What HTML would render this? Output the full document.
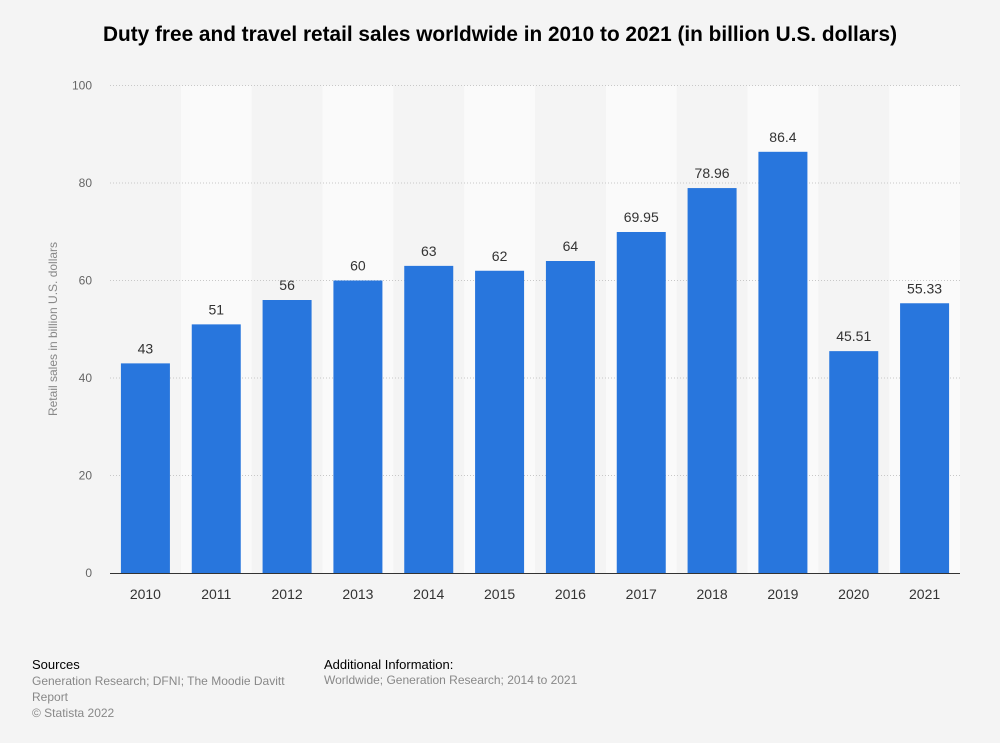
<!DOCTYPE html>
<html><head><meta charset="utf-8"><style>
body{margin:0;background:#f4f4f4;font-family:"Liberation Sans",sans-serif;}
#wrap{position:relative;width:1000px;height:743px;}
.t{position:absolute;color:#666;font-size:12px;}
</style></head><body>
<div id="wrap">
<div style="position:absolute;left:0;top:23px;width:1000px;text-align:center;font-weight:bold;font-size:20.8px;color:#000;">Duty free and travel retail sales worldwide in 2010 to 2021 (in billion U.S. dollars)</div>
<svg id="c" width="1000" height="743" style="position:absolute;left:0;top:0"></svg>
<div class="t" style="left:32px;top:657px;color:#000;font-size:13px;">Sources</div>
<div class="t" style="left:32px;top:673px;line-height:16px;color:#888;">Generation Research; DFNI; The Moodie Davitt<br>Report<br>© Statista 2022</div>
<div class="t" style="left:324px;top:657px;color:#000;font-size:13px;">Additional Information:</div>
<div class="t" style="left:324px;top:673px;color:#888;">Worldwide; Generation Research; 2014 to 2021</div>
</div>
<script>
const categories=["2010","2011","2012","2013","2014","2015","2016","2017","2018","2019","2020","2021"];
const values=[43,51,56,60,63,62,64,69.95,78.96,86.4,45.51,55.33];
const labels=["43","51","56","60","63","62","64","69.95","78.96","86.4","45.51","55.33"];
const yTicks=[0,20,40,60,80,100];
const NS="http://www.w3.org/2000/svg";
const svg=document.getElementById('c');
const x0=110,x1=960,y0=573,yTop=85.5,yMax=100;
const bw=(x1-x0)/categories.length;
const y=v=>y0-(v/yMax)*(y0-yTop);
const xc=i=>x0+bw*(i+0.5);
function mk(t,a){const e=document.createElementNS(NS,t);for(const k in a)e.setAttribute(k,a[k]);svg.appendChild(e);return e;}
categories.forEach((c,i)=>{if(i%2===1){const r=mk('rect',{x:x0+bw*i,y:yTop,width:bw,height:y0-yTop,fill:'#fafafa'});

}});
yTicks.forEach(v=>{
if(v>0){const l=mk('line',{x1:x0,x2:x1,y1:y(v),y2:y(v),stroke:'#c8c8c8','stroke-dasharray':'1,2'});

}
const t=mk('text',{x:92,y:y(v)+4,'text-anchor':'end','font-size':12,fill:'#666','font-family':'Liberation Sans, sans-serif'});t.textContent=v;


});
categories.forEach((c,i)=>{
const b=mk('rect',{x:xc(i)-24.5,y:y(values[i]),width:49,height:y0-y(values[i]),fill:'#2876dd'});


const v=mk('text',{x:xc(i),y:y(values[i])-10,'text-anchor':'middle','font-size':14,fill:'#333','font-family':'Liberation Sans, sans-serif'});v.textContent=labels[i];


const t=mk('text',{x:xc(i),y:599,'text-anchor':'middle','font-size':14,fill:'#333','font-family':'Liberation Sans, sans-serif'});t.textContent=c;


});
const ax=mk('line',{x1:x0,x2:x1,y1:y0+0.5,y2:y0+0.5,stroke:'#333','stroke-width':1});


const yt=mk('text',{x:0,y:0,transform:'translate(57,329) rotate(-90)','text-anchor':'middle','font-size':12,fill:'#888','font-family':'Liberation Sans, sans-serif'});yt.textContent='Retail sales in billion U.S. dollars';


</script>
</body></html>
